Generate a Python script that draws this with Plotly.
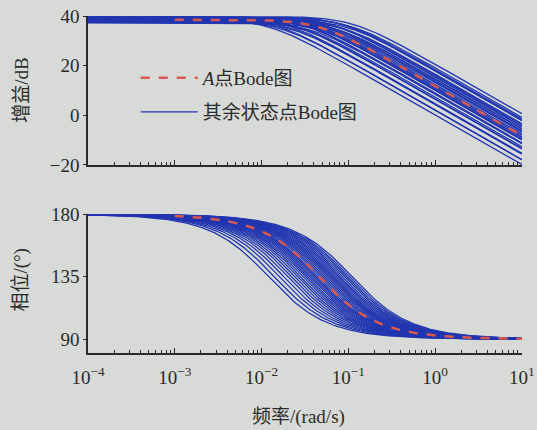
import numpy as np
import plotly.graph_objects as go

# ---------------- data ----------------
# corner frequencies (rad/s) of the "other state point" first-order models
corner_freqs = [0.012, 0.014, 0.016, 0.018, 0.020, 0.022, 0.024, 0.026, 0.028,
                0.030, 0.032, 0.034, 0.036, 0.038, 0.040, 0.042, 0.044, 0.047,
                0.050, 0.053, 0.056, 0.059, 0.062, 0.065, 0.068, 0.072, 0.076,
                0.080, 0.085, 0.090, 0.096, 0.102, 0.110]
# low-frequency gains (dB) of the same models
dc_gains_db = [38.6, 39.2, 38.0, 39.6, 38.4, 37.6, 39.0, 38.2, 39.8, 37.8, 38.8,
               39.4, 37.4, 38.6, 39.0, 38.0, 39.6, 38.4, 37.2, 39.2, 38.8, 37.8,
               39.6, 38.2, 39.0, 37.6, 38.6, 39.8, 38.0, 39.4, 38.4, 39.0, 39.8]
# operating point A
a_corner = 0.046
a_gain_db = 38.5

gain_ticks = [-20, 0, 20, 40]
phase_ticks = [90, 135, 180]
freq_ticks = [1e-4, 1e-3, 1e-2, 1e-1, 1e0, 1e1]
freq_tick_labels = ["10<sup>−4</sup>", "10<sup>−3</sup>", "10<sup>−2</sup>",
                    "10<sup>−1</sup>", "10<sup>0</sup>", "10<sup>1</sup>"]

# ---------------- frequency response of -K/(1 + s/wc) ----------------
w = np.logspace(-4, 1, 300)
w_a = np.logspace(-3, 1, 200)


def bode(k_db, wc, ww):
    r = ww / wc
    mag = k_db - 10 * np.log10(1 + r ** 2)
    ph = 180 - np.degrees(np.arctan(r))
    return mag, ph


FONT = "Liberation Serif, Noto Sans CJK SC, serif"
BLUE = "#2236b0"
RED = "#d65a52"
BG = "#d8dad8"
INK = "#2a2a2a"

fig = go.Figure()

for i, (k, wc) in enumerate(zip(dc_gains_db, corner_freqs)):
    mag, ph = bode(k, wc, w)
    fig.add_trace(go.Scatter(x=w, y=mag, mode="lines", xaxis="x", yaxis="y",
                             line=dict(color=BLUE, width=1.3),
                             name="其余状态点Bode图", legend="legend2",
                             showlegend=(i == 0), legendgroup="rest"))
    fig.add_trace(go.Scatter(x=w, y=ph, mode="lines", xaxis="x2", yaxis="y2",
                             line=dict(color=BLUE, width=1.3),
                             showlegend=False, legendgroup="rest"))

mag_a, ph_a = bode(a_gain_db, a_corner, w_a)
fig.add_trace(go.Scatter(x=w_a, y=mag_a, mode="lines", xaxis="x", yaxis="y",
                         line=dict(color=RED, width=2.5, dash="dash"),
                         name="<i>A</i>点Bode图", legend="legend"))
fig.add_trace(go.Scatter(x=w_a, y=ph_a, mode="lines", xaxis="x2", yaxis="y2",
                         line=dict(color=RED, width=2.5, dash="dash"),
                         showlegend=False))

minor_vals = [m * 10.0 ** e for e in range(-4, 1) for m in range(2, 10)]

xcommon = dict(type="log", range=[-4, 1.001], showgrid=False, zeroline=False,
               showline=True, linecolor=INK, linewidth=1.5, automargin=False,
               ticks="inside", ticklen=5, tickcolor=INK,
               tickmode="array", tickvals=freq_ticks, ticktext=freq_tick_labels,
               ticklabeloverflow="allow",
               minor=dict(ticks="inside", ticklen=3, tickcolor=INK,
                          tickmode="array", tickvals=minor_vals),
               tickfont=dict(family=FONT, size=19, color=INK))

ycommon = dict(showgrid=False, zeroline=False, showline=True, linecolor=INK,
               linewidth=1.5, ticks="outside", ticklen=3, tickcolor=INK,
               automargin=False,
               tickfont=dict(family=FONT, size=19, color=INK))

legfont = dict(family=FONT, size=19, color=INK)
titlefont = dict(family=FONT, size=19, color=INK)

fig.update_layout(
    width=537, height=430,
    margin=dict(l=88, r=15, t=16, b=77),
    paper_bgcolor=BG, plot_bgcolor=BG,
    font=dict(family=FONT, color=INK),
    xaxis=dict(xcommon, anchor="y", showticklabels=False),
    yaxis=dict(ycommon, domain=[0.558, 1], range=[-20, 40],
               tickvals=gain_ticks, anchor="x"),
    xaxis2=dict(xcommon, anchor="y2", ticklabelstandoff=6),
    yaxis2=dict(ycommon, domain=[0, 0.412], range=[80, 180],
                tickvals=phase_ticks, anchor="x2"),
    legend=dict(x=0.11, y=0.816, xanchor="left", yanchor="middle", itemwidth=57,
                bgcolor="rgba(0,0,0,0)", font=legfont),
    legend2=dict(x=0.11, y=0.715, xanchor="left", yanchor="middle", itemwidth=57,
                 bgcolor="rgba(0,0,0,0)", font=legfont),
    annotations=[
        dict(text="增益/dB", xref="paper", yref="paper", x=-0.155, y=0.78,
             xanchor="center", yanchor="middle",
             textangle=-90, showarrow=False, font=titlefont),
        dict(text="相位/(°)", xref="paper", yref="paper", x=-0.155, y=0.217,
             xanchor="center", yanchor="middle",
             textangle=-90, showarrow=False, font=titlefont),
        dict(text="频率/(rad/s)", xref="paper", yref="paper", x=0.485, y=-0.19,
             xanchor="center", yanchor="middle",
             showarrow=False, font=titlefont),
    ],
)

fig.write_html("out.html")
